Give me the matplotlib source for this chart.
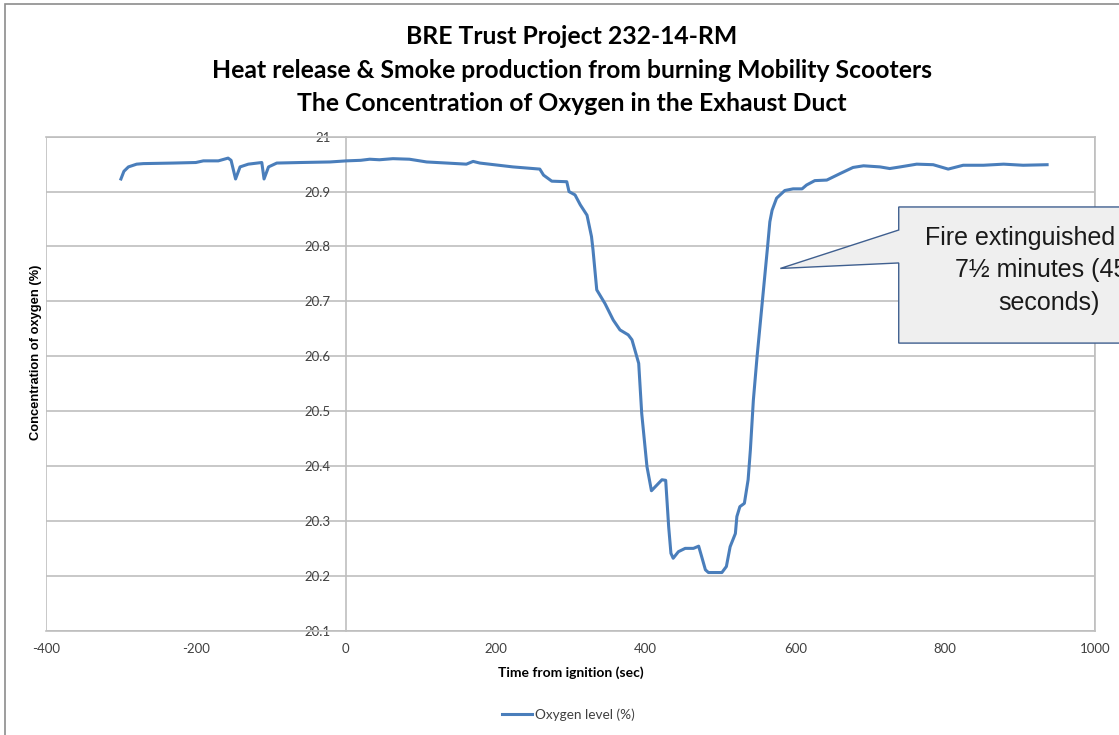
import matplotlib
matplotlib.use('Agg')
import matplotlib.pyplot as plt
from matplotlib.patches import Polygon, Rectangle

plt.rcParams['axes.unicode_minus'] = False

# time from ignition (s) and oxygen concentration (%)
time_s = [-300, -296, -290, -279, -270, -230, -200, -190, -170, -157, -153, -147, -141, -130,
          -118, -112, -109, -103, -92, -60, -21, 1, 20, 32, 45, 63, 85, 108, 135, 161, 170, 179,
          223, 259, 264, 275, 295, 298, 306, 313, 322, 328, 330, 335, 346, 357, 366, 377, 382,
          386, 391, 395, 402, 408, 415, 422, 427, 431, 434, 437, 444, 453, 464, 471, 475, 480,
          484, 502, 508, 513, 520, 522, 526, 532, 537, 540, 544, 549, 556, 563, 566, 569, 575,
          586, 597, 609, 615, 626, 642, 660, 677, 691, 713, 726, 740, 762, 784, 804, 824, 851,
          878, 904, 936]
oxygen = [20.923, 20.937, 20.945, 20.950, 20.951, 20.952, 20.953, 20.956, 20.956, 20.961, 20.957,
          20.923, 20.945, 20.950, 20.952, 20.953, 20.923, 20.945, 20.952, 20.953, 20.954, 20.956,
          20.957, 20.959, 20.958, 20.960, 20.959, 20.954, 20.952, 20.950, 20.955, 20.952, 20.945,
          20.941, 20.930, 20.919, 20.918, 20.900, 20.894, 20.876, 20.857, 20.818, 20.794, 20.721,
          20.696, 20.666, 20.648, 20.639, 20.630, 20.611, 20.587, 20.496, 20.399, 20.355, 20.365,
          20.375, 20.374, 20.289, 20.241, 20.232, 20.244, 20.250, 20.250, 20.254, 20.235, 20.211,
          20.206, 20.206, 20.217, 20.253, 20.277, 20.308, 20.326, 20.332, 20.375, 20.429, 20.520,
          20.600, 20.700, 20.800, 20.845, 20.866, 20.888, 20.902, 20.905, 20.905, 20.912, 20.920,
          20.921, 20.933, 20.944, 20.947, 20.945, 20.942, 20.945, 20.950, 20.949, 20.941, 20.948,
          20.948, 20.950, 20.948, 20.949]

x_ticks = [-400, -200, 0, 200, 400, 600, 800, 1000]
y_ticks = [20.1, 20.2, 20.3, 20.4, 20.5, 20.6, 20.7, 20.8, 20.9, 21.0]
y_tick_labels = ['20.1', '20.2', '20.3', '20.4', '20.5', '20.6', '20.7', '20.8', '20.9', '21']

title = ('BRE Trust Project 232-14-RM\n'
         'Heat release & Smoke production from burning Mobility Scooters\n'
         'The Concentration of Oxygen in the Exhaust Duct')
callout_text = 'Fire extinguished after\n7\u00bd minutes (450\nseconds)'

line_col = '#4a7ebb'
grid_col = '#bfbfbf'
text_col = '#404040'

fig = plt.figure(figsize=(11.19, 7.35), dpi=100)
ax = fig.add_axes([0.0411, 0.1419, 0.9375, 0.6721])

ax.plot(time_s, oxygen, color=line_col, linewidth=2.2, label='Oxygen level (%)',
        solid_joinstyle='round', zorder=3)

ax.set_xlim(-400, 1000)
ax.set_ylim(20.1, 21.0)
ax.set_xticks(x_ticks)
ax.set_yticks(y_ticks)
ax.set_yticklabels(y_tick_labels)
ax.yaxis.grid(True, color=grid_col, linewidth=1.2)
ax.set_axisbelow(True)

for s in ['top', 'right', 'bottom']:
    ax.spines[s].set_color(grid_col)
    ax.spines[s].set_linewidth(1.2)
# vertical axis crosses at x = 0, like the Excel original
ax.spines['left'].set_position(('data', 0))
ax.spines['left'].set_color(grid_col)
ax.spines['left'].set_linewidth(1.2)
ax.add_patch(Rectangle((0, 0), 1, 1, transform=ax.transAxes, fill=False,
                       edgecolor=grid_col, linewidth=1.2, zorder=1))

ax.tick_params(axis='both', length=0, labelcolor=text_col, labelsize=9.5)
ax.tick_params(axis='y', pad=11)
ax.tick_params(axis='x', pad=9)
for lab in ax.get_xticklabels() + ax.get_yticklabels():
    lab.set_family('Lato')

ax.set_xlabel('Time from ignition (sec)', family='Lato', fontweight='bold', fontsize=10,
              labelpad=8)
fig.text(0.032, 0.521, 'Concentration of oxygen (%)', rotation=90, ha='center', va='center',
         family='Liberation Sans', fontweight='bold', fontsize=9.3)

fig.text(0.511, 0.843, title, ha='center', va='bottom', family='Lato', fontweight='bold',
         fontsize=17.8, linespacing=1.55)

# callout box with pointer
cx0, cx1 = 738, 1150
cy0, cy1 = 20.624, 20.872
tip = (580, 20.760)
callout = Polygon([(cx0, cy1), (cx1, cy1), (cx1, cy0), (cx0, cy0), (cx0, 20.770),
                   tip, (cx0, 20.830)], closed=True, facecolor='#efefef',
                  edgecolor='#3f5f8f', linewidth=1.0, clip_on=False, zorder=5)
ax.add_patch(callout)
ax.text(938, 20.757, callout_text, ha='center', va='center', family='Liberation Sans',
        fontsize=18, linespacing=1.45, color='#1a1a1a', zorder=6, clip_on=False)

leg = fig.legend(loc='center', bbox_to_anchor=(0.508, 0.028), frameon=False,
                 prop={'family': 'Lato', 'size': 9.8}, handlelength=2.2, handletextpad=0.2)
for t in leg.get_texts():
    t.set_color(text_col)

# outer chart border
fig.add_artist(Rectangle((5 / 1119, -0.1), 1.2, 1.1 - 4 / 735, transform=fig.transFigure,
                         fill=False, edgecolor='#8c8c8c', linewidth=1.2))

fig.savefig('out.png', dpi=100)
